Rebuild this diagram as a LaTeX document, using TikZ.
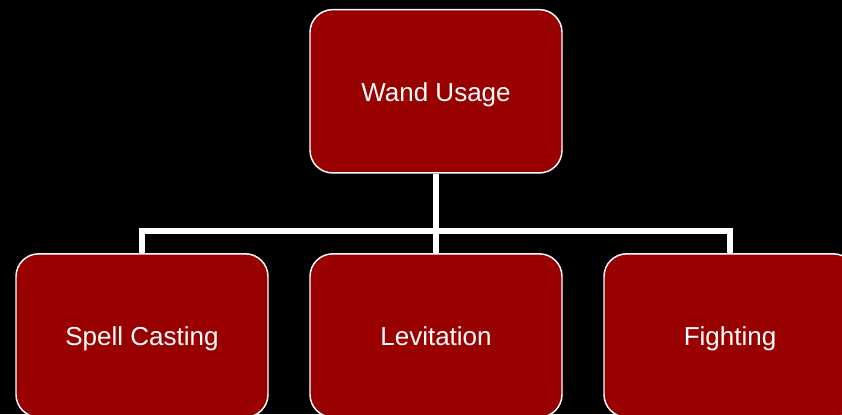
\documentclass[tikz,border=0pt]{standalone}
\usepackage{fontspec}
\setmainfont{Liberation Sans}
\usetikzlibrary{backgrounds}
\definecolor{boxred}{HTML}{990000}
\tikzset{
  orgbox/.style={draw=white, line width=1.1pt, fill=boxred, rounded corners=17pt,
    minimum width=189pt, minimum height=122.5pt, inner sep=0pt,
    text height=15.6pt, text depth=0pt,
    text=white, font=\fontsize{19.5}{23}\selectfont},
  orgline/.style={draw=white, line width=4pt}
}
\begin{document}
\begin{tikzpicture}[x=0.75pt,y=-0.75pt]
\useasboundingbox (0,0) rectangle (842,414);
\clip (0,0) rectangle (842,414);
\node[orgbox] (top) at (436,91.3) {Wand Usage};
\node[orgbox] (left) at (142,335.5) {Spell Casting};
\node[orgbox] (mid) at (436,335.5) {Levitation};
\node[orgbox] (right) at (730,335.5) {Fighting};
\coordinate (bus) at (436,231);
\begin{scope}[on background layer]
\fill[black] (0,0) rectangle (842,414);
\draw[orgline] (top.south) -- (bus);
\draw[orgline, line cap=rect] (bus) -| (left.north);
\draw[orgline, line cap=rect] (bus) -| (right.north);
\draw[orgline] (bus) -- (mid.north);
\end{scope}
\end{tikzpicture}
\end{document}
